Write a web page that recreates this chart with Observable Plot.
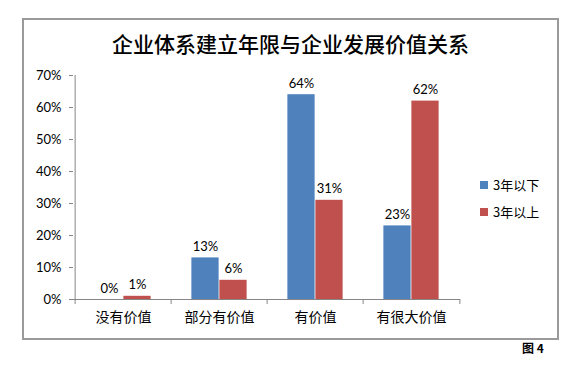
<!DOCTYPE html>
<html>
<head>
<meta charset="utf-8">
<script src="https://cdn.jsdelivr.net/npm/d3@7"></script>
<script src="https://cdn.jsdelivr.net/npm/@observablehq/plot@0.6"></script>
<style>
  html, body { margin: 0; padding: 0; background: #fff; }
  #wrap { position: relative; width: 583px; height: 377px; overflow: hidden; font-family: Lato, "Noto Sans CJK SC", sans-serif; }
  #frame { position: absolute; left: 22px; top: 18px; width: 533px; height: 318px; border: 2px solid #9a9a9a; }
  #title { position: absolute; left: 22px; width: 537px; top: 28px; text-align: center; font-family: "Noto Sans CJK SC", sans-serif; font-size: 21px; font-weight: 500; color: #000; line-height: 30px; }
  #legend { position: absolute; left: 480px; top: 171px; font-family: "Noto Sans CJK SC", sans-serif; font-size: 13px; color: #000; }
  .li { display: flex; align-items: center; height: 27px; }
  .sw { width: 8px; height: 8px; margin-right: 5px; }
  #caption { position: absolute; left: 522px; top: 339px; font-family: "Noto Sans CJK SC", sans-serif; font-size: 12px; font-weight: bold; color: #000; }
  #chart { position: absolute; left: 0; top: 0; }
</style>
</head>
<body>
<div id="wrap">
  <div id="frame"></div>
  <div id="chart"></div>
  <div id="title"></div>
  <div id="legend"></div>
  <div id="caption"></div>
</div>
<script>
const titleText = "企业体系建立年限与企业发展价值关系";
const captionText = "图 4";
const categories = ["没有价值", "部分有价值", "有价值", "有很大价值"];
const seriesNames = ["3年以下", "3年以上"];
const seriesColors = ["#4F81BD", "#C0504D"];
const under3 = [0, 0.13, 0.64, 0.23];
const over3 = [0.01, 0.06, 0.31, 0.62];
const yTicks = [0, 0.1, 0.2, 0.3, 0.4, 0.5, 0.6, 0.7];

const rows = [];
categories.forEach((c, i) => {
  rows.push({cat: c, series: seriesNames[0], value: under3[i]});
  rows.push({cat: c, series: seriesNames[1], value: over3[i]});
});

const W = 583, H = 377;
const mL = 73, mR = 123, mT = 75, mB = 78;
const step = (W - mL - mR) / categories.length;
const barW = 28;
const outer = step / 2 - barW;
const inner = step / 2;

const fmt = d => Math.round(d * 100) + "%";
const font = "Lato, 'Noto Sans CJK SC', sans-serif";
const axisGray = "#868686";

const chart = Plot.plot({
  width: W, height: H,
  marginLeft: mL, marginRight: mR, marginTop: mT, marginBottom: mB,
  style: {fontFamily: font, fontSize: "13px", color: "#000", background: "transparent"},
  x: {domain: categories, padding: 0, axis: null, label: null},
  y: {domain: [0, 0.7], axis: null, label: null},
  color: {domain: seriesNames, range: seriesColors},
  marks: [
    Plot.barY(rows.filter(d => d.series === seriesNames[0]), {x: "cat", y: "value", fill: "series", insetLeft: outer, insetRight: inner}),
    Plot.barY(rows.filter(d => d.series === seriesNames[1]), {x: "cat", y: "value", fill: "series", insetLeft: inner, insetRight: outer}),
    Plot.text(rows.filter(d => d.series === seriesNames[0]), {x: "cat", y: "value", text: d => fmt(d.value), dx: -barW / 2, dy: -11, fontSize: 13, fill: "#000"}),
    Plot.text(rows.filter(d => d.series === seriesNames[1]), {x: "cat", y: "value", text: d => fmt(d.value), dx: barW / 2, dy: -11, fontSize: 13, fill: "#000"}),
    Plot.ruleY([0], {stroke: axisGray}),
    Plot.ruleX([categories[0]], {x: d => d, dx: -step / 2, y1: 0, y2: 0.7, stroke: axisGray}),
    Plot.ruleX(categories, {x: d => d, dx: -step / 2, y1: 0, y2: 0, insetBottom: -5, stroke: axisGray}),
    Plot.ruleX([categories[categories.length - 1]], {x: d => d, dx: step / 2, y1: 0, y2: 0, insetBottom: -5, stroke: axisGray}),
    Plot.axisX({domain: categories, label: null, tickSize: 0, tickPadding: 13, fontSize: 14, fontFamily: "'Noto Sans CJK SC', sans-serif", fill: "#000"}),
    Plot.axisY({ticks: yTicks, label: null, tickFormat: fmt, tickSize: 4, tickPadding: 8, stroke: axisGray, fill: "#000", fontSize: 13})
  ]
});
document.getElementById("chart").appendChild(chart);
document.getElementById("title").textContent = titleText;
document.getElementById("caption").textContent = captionText;
const leg = document.getElementById("legend");
seriesNames.forEach((s, i) => {
  const li = document.createElement("div");
  li.className = "li";
  const sw = document.createElement("div");
  sw.className = "sw";
  sw.style.background = seriesColors[i];
  const t = document.createElement("span");
  t.textContent = s;
  li.appendChild(sw); li.appendChild(t);
  leg.appendChild(li);
});
</script>
</body>
</html>
